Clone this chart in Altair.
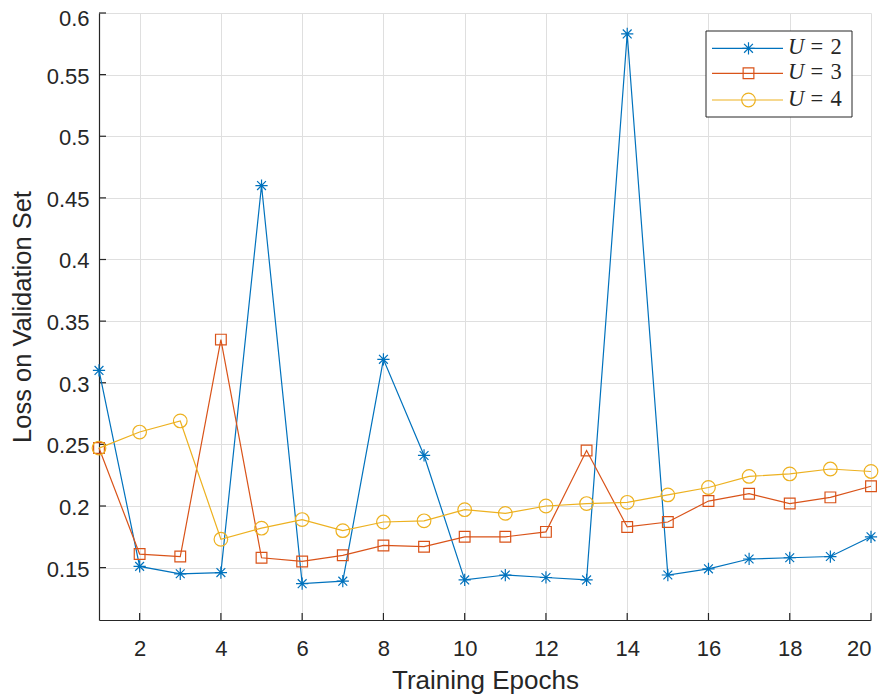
import altair as alt
import pandas as pd

epochs = list(range(1, 21))
u2 = [0.310, 0.151, 0.145, 0.146, 0.460, 0.137, 0.139, 0.319, 0.241, 0.140,
      0.144, 0.142, 0.140, 0.583, 0.144, 0.149, 0.157, 0.158, 0.159, 0.175]
u3 = [0.247, 0.161, 0.159, 0.335, 0.158, 0.155, 0.160, 0.168, 0.167, 0.175,
      0.175, 0.179, 0.245, 0.183, 0.187, 0.204, 0.210, 0.202, 0.207, 0.216]
u4 = [0.247, 0.260, 0.269, 0.173, 0.182, 0.189, 0.180, 0.187, 0.188, 0.197,
      0.194, 0.200, 0.202, 0.203, 0.209, 0.215, 0.224, 0.226, 0.230, 0.228]

series_names = ["U = 2", "U = 3", "U = 4"]
series_nums = ["2", "3", "4"]
series_values = [u2, u3, u4]
colors = ["#0072BD", "#D95319", "#EDB120"]
ASTERISK = "M-1,0L1,0M0,-1L0,1M-0.72,-0.72L0.72,0.72M-0.72,0.72L0.72,-0.72"
shapes = [ASTERISK, "square", "circle"]
sizes = [150, 115, 185]

x_ticks = list(range(2, 21, 2))
y_ticks = [0.15, 0.2, 0.25, 0.3, 0.35, 0.4, 0.45, 0.5, 0.55, 0.6]

W, H = 772, 607
TXT = "#262626"

xscale = alt.Scale(domain=[1, 20], nice=False, zero=False)
yscale = alt.Scale(domain=[0.1075, 0.6], nice=False, zero=False)
xaxis = alt.Axis(values=x_ticks, title="Training Epochs", grid=True, ticks=False,
                 labelPadding=18, titlePadding=8, titleFontSize=26)
yaxis = alt.Axis(values=y_ticks, title="Loss on Validation Set", grid=True, ticks=False,
                 format=".2~f", labelPadding=10, titlePadding=11, titleFontSize=25.5,
                 labelOffset={"condition": {"test": "datum.value >= 0.59", "value": 5},
                              "value": 1.5})

X = alt.X("epoch:Q", scale=xscale, axis=xaxis)
Y = alt.Y("loss:Q", scale=yscale, axis=yaxis)

layers = []

# inward ticks
xt = pd.DataFrame({"epoch": x_ticks})
yt = pd.DataFrame({"loss": y_ticks})
layers.append(alt.Chart(xt).mark_rule(color=TXT, strokeWidth=1.2).encode(
    x=X, y=alt.value(H), y2=alt.value(H - 7)))
layers.append(alt.Chart(yt).mark_rule(color=TXT, strokeWidth=1.2).encode(
    y=Y, x=alt.value(0), x2=alt.value(7)))

for name, vals, col, shp, sz in zip(series_names, series_values, colors, shapes, sizes):
    d = pd.DataFrame({"epoch": epochs, "loss": vals, "series": name})
    layers.append(alt.Chart(d).mark_line(color=col, strokeWidth=1.2).encode(x=X, y=Y))
    layers.append(alt.Chart(d).mark_point(color=col, shape=shp, size=sz, filled=False,
                                          strokeWidth=1.2, opacity=1).encode(x=X, y=Y))

# legend (manual, MATLAB style)
one = pd.DataFrame({"k": [0]})
bx0, bx1, by0, by1 = 607, 753, 18, 104
layers.append(alt.Chart(one).mark_rect(fill="white", stroke=TXT, strokeWidth=1).encode(
    x=alt.value(bx0), x2=alt.value(bx1), y=alt.value(by0), y2=alt.value(by1)))
row_y = [35.3, 60.3, 87]
for num, col, shp, sz, ry in zip(series_nums, colors, shapes, sizes, row_y):
    layers.append(alt.Chart(one).mark_rule(color=col, strokeWidth=1.2).encode(
        x=alt.value(613), x2=alt.value(684), y=alt.value(ry)))
    layers.append(alt.Chart(one).mark_point(color=col, shape=shp, size=sz, filled=False,
                                            strokeWidth=1.2, opacity=1).encode(
        x=alt.value(649.5), y=alt.value(ry)))
    for txt, tx, style in [("U", 689, "italic"), ("=", 711.5, "normal"), (num, 731.5, "normal")]:
        layers.append(alt.Chart(one).mark_text(text=txt, font="Liberation Serif", fontStyle=style,
                                               fontSize=22.5, color=TXT, align="left",
                                               baseline="alphabetic").encode(
            x=alt.value(tx), y=alt.value(ry + 6)))

chart = alt.layer(*layers).properties(
    width=W, height=H,
    autosize=alt.AutoSizeParams(type="none"),
    padding={"left": 91, "top": 5, "right": 9, "bottom": 78},
).configure_view(stroke=None).configure_axis(
    labelFont="Liberation Sans", labelFontSize=22, labelColor=TXT,
    titleFont="Liberation Sans", titleColor=TXT, titleFontWeight="normal",
    domainColor=TXT, domainWidth=1.2, gridColor="#dfdfdf", gridWidth=1,
)

chart.save("out.html", embed_options={"renderer": "svg", "actions": False})
